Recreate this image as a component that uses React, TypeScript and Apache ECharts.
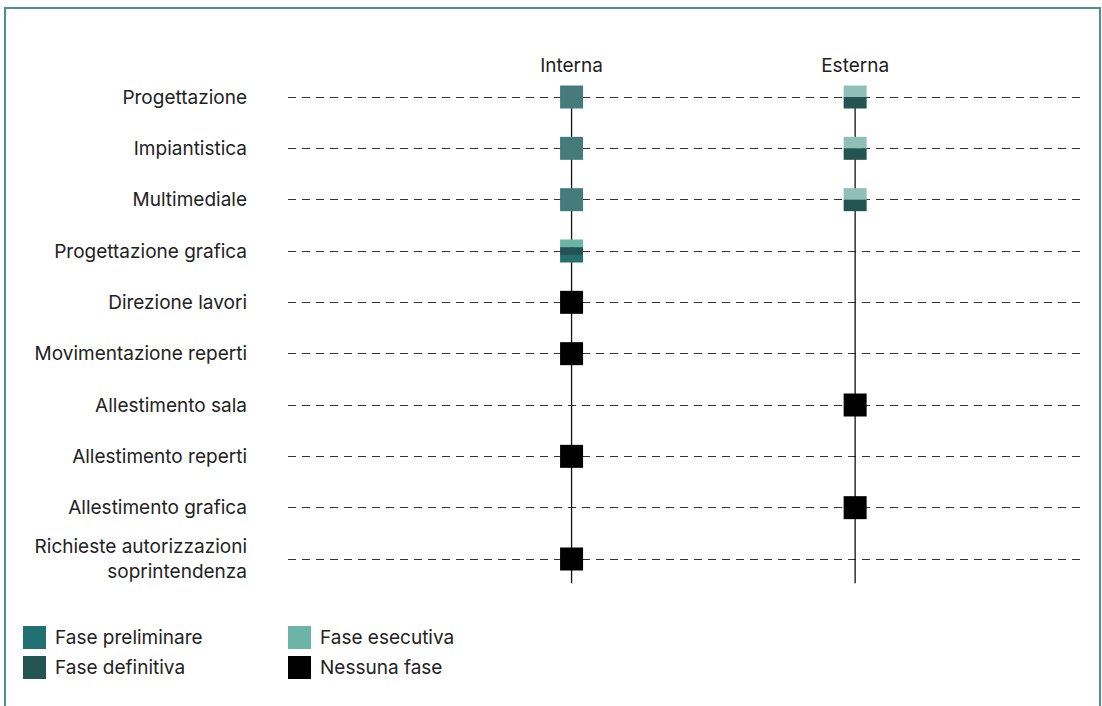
import React, { useEffect, useRef } from "react";
import * as echarts from "echarts";

const rows = [
  "Progettazione",
  "Impiantistica",
  "Multimediale",
  "Progettazione grafica",
  "Direzione lavori",
  "Movimentazione reperti",
  "Allestimento sala",
  "Allestimento reperti",
  "Allestimento grafica",
  "Richieste autorizzazioni\nsoprintendenza",
];
const columns = ["Interna", "Esterna"];

// phases stacked top to bottom inside each cell
const internaCells: string[][] = [
  ["misto"],
  ["misto"],
  ["misto"],
  ["esecutiva", "definitiva", "preliminare"],
  ["nessuna"],
  ["nessuna"],
  [],
  ["nessuna"],
  [],
  ["nessuna"],
];
const esternaCells: string[][] = [
  ["esecutivaChiara", "definitiva"],
  ["esecutivaChiara", "definitiva"],
  ["esecutivaChiara", "definitiva"],
  [],
  [],
  [],
  ["nessuna"],
  [],
  ["nessuna"],
  [],
];

const cellColors: Record<string, string> = {
  preliminare: "#25706f",
  definitiva: "#235452",
  esecutiva: "#6cb3a8",
  esecutivaChiara: "#8fbfb7",
  misto: "#467b7c",
  nessuna: "#000000",
};

const legendLeft = ["Fase preliminare", "Fase definitiva"];
const legendRight = ["Fase esecutiva", "Nessuna fase"];
const legendColors: Record<string, string> = {
  "Fase preliminare": "#237073",
  "Fase definitiva": "#225452",
  "Fase esecutiva": "#6cb3a8",
  "Nessuna fase": "#000000",
};

const lineEnd = 9.47;

export default function App() {
  const ref = useRef<HTMLDivElement>(null);
  useEffect(() => {
    if (!ref.current) return;
    const chart = echarts.init(ref.current, null, { renderer: "svg" });
    const font = "Inter, 'Noto Sans', sans-serif";
    const fs = 19;

    const cellData: any[] = [];
    [internaCells, esternaCells].forEach((col, ci) => {
      col.forEach((phases, ri) => {
        if (phases.length) cellData.push([ci + 1, ri, ci, ri]);
      });
    });
    const allCells = [internaCells, esternaCells];

    const legendSeries = [...legendLeft, ...legendRight].map((name) => ({
      name,
      type: "scatter",
      data: [],
      itemStyle: { color: legendColors[name], opacity: 1 },
    }));

    const legendBase = {
      orient: "vertical",
      top: 621,
      icon: "rect",
      itemWidth: 23,
      itemHeight: 23,
      itemGap: 7,
      textStyle: { fontSize: fs, color: "#222", fontFamily: font, padding: [2, 0, 0, 4] },
    };

    chart.setOption({
      animation: false,
      textStyle: { fontFamily: font },
      graphic: [
        {
          type: "rect",
          shape: { x: 5, y: 8, width: 1095, height: 740 },
          style: { fill: "none", stroke: "#4f8f8f", lineWidth: 2 },
          silent: true,
        },
      ],
      legend: [
        { ...legendBase, data: legendLeft, left: 18 },
        { ...legendBase, data: legendRight, left: 283 },
      ],
      grid: { left: 288, right: 20, top: 97, bottom: 147, containLabel: false },
      xAxis: {
        type: "value",
        position: "top",
        min: 0,
        max: 2.8,
        interval: 1,
        axisLine: { show: false },
        axisTick: { show: false },
        splitLine: { show: false },
        axisLabel: {
          margin: 22,
          fontSize: fs,
          color: "#222",
          fontFamily: font,
          formatter: (v: number) => columns[v - 1] ?? "",
        },
      },
      yAxis: [
        {
          type: "category",
          data: rows,
          inverse: true,
          boundaryGap: false,
          axisLine: { show: false },
          axisTick: { show: false },
          axisLabel: {
            interval: 0,
            margin: 41,
            fontSize: fs,
            color: "#222",
            fontFamily: font,
            lineHeight: 25,
            align: "right",
          },
          splitLine: {
            show: true,
            lineStyle: { type: [8, 6], color: "#333", width: 1 },
          },
        },
        {
          type: "value",
          min: 0,
          max: 9,
          inverse: true,
          show: false,
        },
      ],
      series: [
        ...columns.map((c, i) => ({
          type: "line",
          yAxisIndex: 1,
          clip: false,
          symbol: "none",
          silent: true,
          lineStyle: { color: "#111", width: 1.3 },
          data: [
            [i + 1, 0],
            [i + 1, lineEnd],
          ],
          z: 2,
        })),
        {
          type: "custom",
          yAxisIndex: 0,
          z: 5,
          data: cellData,
          renderItem: (params: any, api: any) => {
            const x = api.value(0);
            const y = api.value(1);
            const ci = api.value(2);
            const ri = api.value(3);
            const phases = allCells[ci][ri];
            const p = api.coord([x, y]);
            const size = 23;
            const bandH = size / phases.length;
            const children = phases.map((ph: string, k: number) => ({
              type: "rect",
              shape: {
                x: p[0] - size / 2,
                y: p[1] - size / 2 + k * bandH,
                width: size,
                height: bandH + (k < phases.length - 1 ? 0.5 : 0),
              },
              style: { fill: cellColors[ph] },
            }));
            return { type: "group", children };
          },
        },
        ...legendSeries,
      ],
    });
    return () => chart.dispose();
  }, []);
  return (
    <div
      ref={ref}
      style={{ position: "fixed", left: 0, top: 0, width: 1102, height: 706, background: "#fff" }}
    />
  );
}
